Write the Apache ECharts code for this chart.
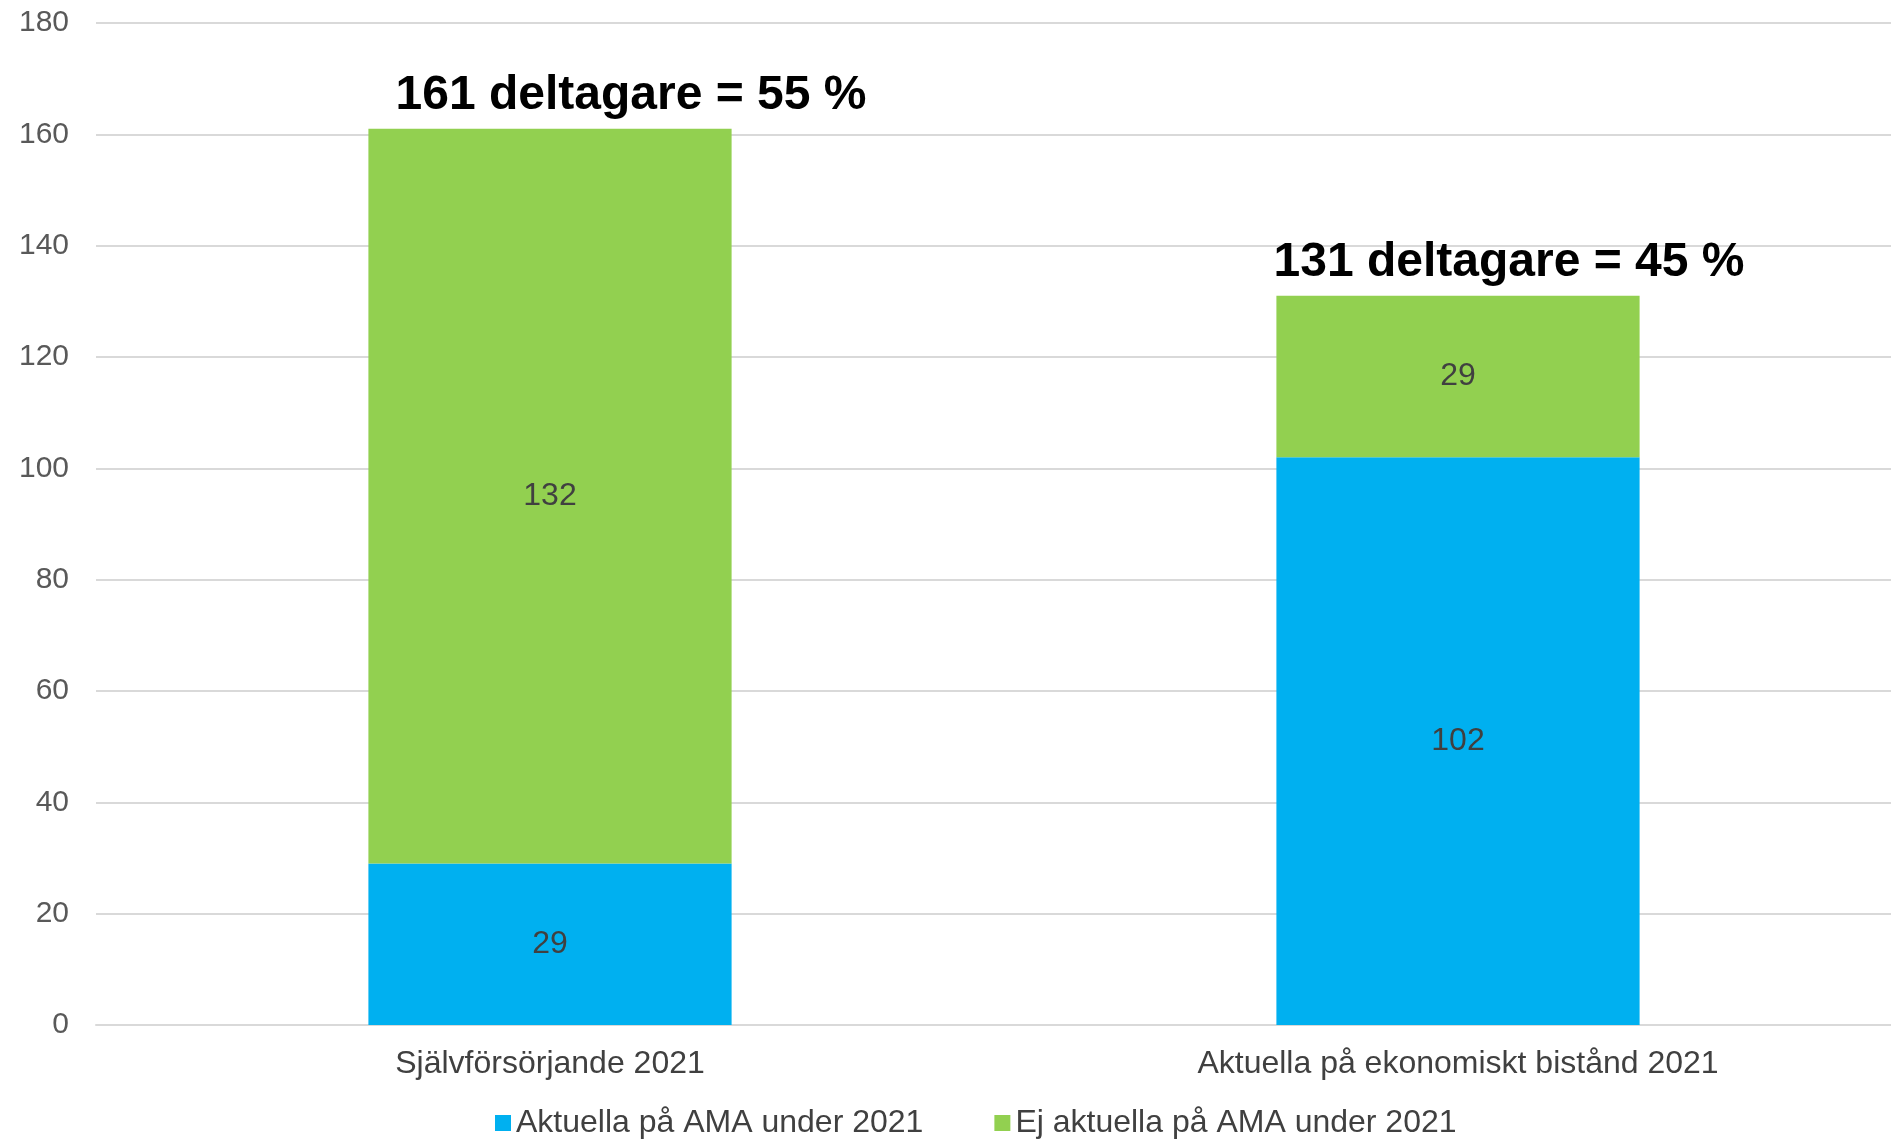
<!DOCTYPE html>
<html><head><meta charset="utf-8">
<script src="https://cdn.jsdelivr.net/npm/echarts@6/dist/echarts.min.js"></script>
<style>html,body{margin:0;padding:0;background:#fff;overflow:hidden;width:1891px;height:1139px}#c{width:1912px;height:1139px}</style>
</head><body><div id="c"></div>
<script>
const categories = ['Självförsörjande 2021', 'Aktuella på ekonomiskt bistånd 2021'];
const seriesNames = ['Aktuella på AMA under 2021', 'Ej aktuella på AMA under 2021'];
const amaValues = [29, 102];
const ejAmaValues = [132, 29];
const yTicks = [0, 20, 40, 60, 80, 100, 120, 140, 160, 180];

const totals = amaValues.map((v, i) => v + ejAmaValues[i]);
const grand = totals.reduce((a, b) => a + b, 0);
const annotOffsets = [[81, -4], [51, -4]];

const font = '"Liberation Sans", Arial, sans-serif';
const chart = echarts.init(document.getElementById('c'));
chart.setOption({
  animation: false,
  textStyle: { fontFamily: font },
  grid: { left: 96, right: 0, top: 23, bottom: 114 },
  legend: {
    data: seriesNames, left: 495, top: 1107, padding: 0, icon: 'rect', itemWidth: 16, itemHeight: 16,
    itemGap: 71, textStyle: { fontSize: 32, color: '#404040', fontFamily: font }
  },
  xAxis: {
    type: 'category', data: categories,
    axisLine: { lineStyle: { color: '#d9d9d9', width: 2 } }, axisTick: { show: false },
    axisLabel: { fontSize: 32, color: '#404040', margin: 23 }
  },
  yAxis: {
    type: 'value', min: yTicks[0], max: yTicks[yTicks.length - 1], interval: yTicks[1] - yTicks[0],
    axisLine: { show: false }, axisTick: { show: false },
    splitLine: { lineStyle: { color: '#d9d9d9', width: 2 } },
    axisLabel: { fontSize: 30, color: '#595959', margin: 27 }
  },
  series: [
    {
      name: seriesNames[0], type: 'bar', stack: 's', barWidth: '40%', data: amaValues,
      itemStyle: { color: '#00B0F0' },
      label: { show: true, position: 'inside', fontSize: 32, color: '#404040' }
    },
    {
      name: seriesNames[1], type: 'bar', stack: 's', barWidth: '40%', data: ejAmaValues,
      itemStyle: { color: '#92D050' },
      label: { show: true, position: 'inside', fontSize: 32, color: '#404040' }
    },
    {
      name: 'total', type: 'bar', barWidth: '40%', barGap: '-100%', silent: true, z: 1,
      itemStyle: { color: 'rgba(0,0,0,0)' },
      data: totals.map((t, i) => ({
        value: t,
        label: {
          show: true, position: 'top', distance: 5, offset: annotOffsets[i],
          formatter: t + ' deltagare = ' + Math.round(t / grand * 100) + ' %',
          fontSize: 48, fontWeight: 'bold', color: '#000'
        }
      }))
    }
  ]
});
</script></body></html>
